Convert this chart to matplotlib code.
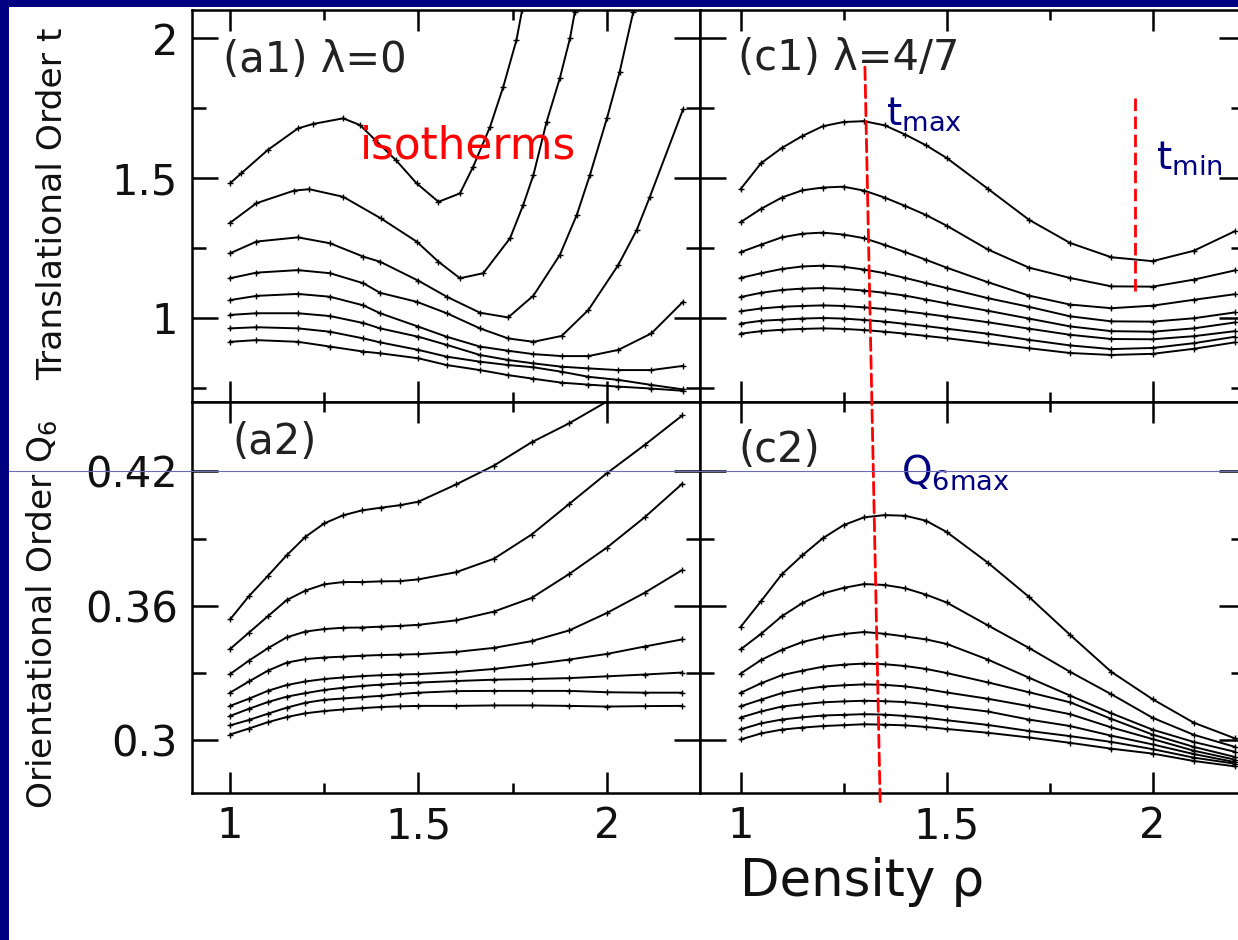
import numpy as np
import matplotlib
matplotlib.use("Agg")
import matplotlib.pyplot as plt
from matplotlib.patches import ConnectionPatch, Rectangle
from matplotlib.lines import Line2D
from matplotlib.ticker import FixedLocator, FixedFormatter

plt.rcParams['font.family'] = ['DejaVu Sans']
plt.rcParams['mathtext.default'] = 'regular'

# density grid shared by the lambda=4/7 panels and the lower lambda=0 panel
rho = [1.0, 1.05, 1.1, 1.15, 1.2, 1.25, 1.3, 1.35, 1.4, 1.45, 1.5,
       1.6, 1.7, 1.8, 1.9, 2.0, 2.1, 2.2]

# (a1) lambda=0, translational order: each isotherm has its own densities
a1_rho = [
    [1.0, 1.03, 1.1, 1.18, 1.22, 1.3, 1.345, 1.385, 1.44, 1.495, 1.553, 1.61, 1.645, 1.69, 1.725, 1.76, 1.775],
    [1.0, 1.07, 1.17, 1.21, 1.3, 1.4, 1.495, 1.553, 1.61, 1.672, 1.743, 1.778, 1.805, 1.84, 1.875, 1.902, 1.915],
    [1.0, 1.07, 1.18, 1.265, 1.354, 1.398, 1.5, 1.575, 1.663, 1.738, 1.805, 1.875, 1.92, 1.955, 2.0, 2.034, 2.07],
    [1.0, 1.07, 1.18, 1.265, 1.354, 1.398, 1.495, 1.575, 1.663, 1.738, 1.805, 1.88, 1.951, 2.03, 2.079, 2.114, 2.202],
    [1.0, 1.07, 1.18, 1.265, 1.354, 1.398, 1.5, 1.575, 1.663, 1.738, 1.805, 1.88, 1.951, 2.03, 2.118, 2.202],
    [1.0, 1.07, 1.18, 1.265, 1.354, 1.398, 1.5, 1.575, 1.663, 1.738, 1.805, 1.88, 1.951, 2.03, 2.118, 2.202],
    [1.0, 1.07, 1.18, 1.265, 1.354, 1.398, 1.5, 1.575, 1.663, 1.738, 1.805, 1.88, 1.951, 2.03, 2.118, 2.202],
    [1.0, 1.07, 1.18, 1.265, 1.354, 1.398, 1.5, 1.575, 1.663, 1.738, 1.805, 1.88, 1.951, 2.03, 2.118, 2.202],
]
a1_t = [
    [1.481, 1.517, 1.600, 1.677, 1.693, 1.713, 1.689, 1.636, 1.564, 1.481, 1.415, 1.445, 1.540, 1.683, 1.826, 1.993, 2.10],
    [1.340, 1.410, 1.455, 1.460, 1.433, 1.356, 1.273, 1.201, 1.142, 1.160, 1.285, 1.404, 1.511, 1.701, 1.856, 1.999, 2.094],
    [1.231, 1.273, 1.288, 1.267, 1.219, 1.201, 1.133, 1.076, 1.019, 1.002, 1.080, 1.225, 1.368, 1.511, 1.713, 1.880, 2.094],
    [1.142, 1.162, 1.171, 1.160, 1.124, 1.090, 1.058, 1.017, 0.963, 0.927, 0.915, 0.936, 1.029, 1.189, 1.314, 1.433, 1.745],
    [1.064, 1.079, 1.086, 1.076, 1.045, 1.017, 0.969, 0.933, 0.898, 0.883, 0.871, 0.864, 0.864, 0.886, 0.945, 1.058],
    [1.011, 1.017, 1.017, 1.007, 0.982, 0.963, 0.933, 0.904, 0.868, 0.850, 0.838, 0.826, 0.820, 0.814, 0.814, 0.829],
    [0.963, 0.967, 0.963, 0.951, 0.927, 0.913, 0.886, 0.862, 0.844, 0.832, 0.824, 0.808, 0.790, 0.779, 0.761, 0.745],
    [0.915, 0.921, 0.915, 0.898, 0.880, 0.874, 0.856, 0.832, 0.814, 0.796, 0.783, 0.769, 0.762, 0.755, 0.748, 0.740],
]

# (a2) lambda=0, orientational order Q6 (lowest isotherm leaves the frame near rho=2)
a2_q = [
    [0.3539, 0.3643, 0.3733, 0.3825, 0.3908, 0.3968, 0.4004, 0.4026, 0.4038, 0.4049, 0.4065,
     0.4142, 0.4226, 0.4330, 0.4415, 0.4512, np.nan, np.nan],
    [0.3407, 0.3480, 0.3553, 0.3625, 0.3668, 0.3696, 0.3706, 0.3706, 0.3709, 0.3710, 0.3718,
     0.3750, 0.3810, 0.3918, 0.4055, 0.4192, 0.4318, 0.4450],
    [0.3295, 0.3355, 0.3410, 0.3459, 0.3485, 0.3496, 0.3502, 0.3503, 0.3507, 0.3510, 0.3515,
     0.3535, 0.3574, 0.3635, 0.3742, 0.3860, 0.3995, 0.4145],
    [0.3212, 0.3262, 0.3310, 0.3346, 0.3362, 0.3369, 0.3373, 0.3377, 0.3380, 0.3382, 0.3384,
     0.3394, 0.3412, 0.3442, 0.3490, 0.3568, 0.3658, 0.3760],
    [0.3153, 0.3185, 0.3220, 0.3246, 0.3262, 0.3273, 0.3280, 0.3286, 0.3290, 0.3293, 0.3295,
     0.3304, 0.3318, 0.3338, 0.3360, 0.3385, 0.3418, 0.3450],
    [0.3108, 0.3140, 0.3170, 0.3194, 0.3210, 0.3224, 0.3234, 0.3242, 0.3248, 0.3253, 0.3257,
     0.3264, 0.3270, 0.3273, 0.3277, 0.3285, 0.3293, 0.3302],
    [0.3066, 0.3090, 0.3118, 0.3145, 0.3167, 0.3180, 0.3186, 0.3192, 0.3198, 0.3206, 0.3212,
     0.3219, 0.3220, 0.3220, 0.3220, 0.3214, 0.3212, 0.3212],
    [0.3025, 0.3052, 0.3080, 0.3103, 0.3120, 0.3130, 0.3137, 0.3143, 0.3148, 0.3151, 0.3153,
     0.3153, 0.3155, 0.3155, 0.3153, 0.3150, 0.3152, 0.3153],
]

# (c1) lambda=4/7, translational order
c1_t = [
    [1.460, 1.553, 1.607, 1.650, 1.685, 1.700, 1.703, 1.688, 1.655, 1.617, 1.572,
     1.462, 1.351, 1.268, 1.217, 1.203, 1.240, 1.310],
    [1.342, 1.390, 1.430, 1.456, 1.466, 1.469, 1.455, 1.430, 1.400, 1.368, 1.330,
     1.245, 1.180, 1.143, 1.113, 1.112, 1.137, 1.170],
    [1.235, 1.262, 1.288, 1.301, 1.305, 1.298, 1.285, 1.261, 1.235, 1.208, 1.180,
     1.128, 1.080, 1.048, 1.035, 1.044, 1.065, 1.085],
    [1.143, 1.160, 1.175, 1.184, 1.187, 1.183, 1.173, 1.160, 1.143, 1.125, 1.107,
     1.071, 1.040, 1.006, 0.988, 0.987, 0.999, 1.020],
    [1.075, 1.090, 1.100, 1.105, 1.107, 1.104, 1.098, 1.090, 1.080, 1.066, 1.052,
     1.026, 0.998, 0.970, 0.953, 0.951, 0.963, 0.984],
    [1.024, 1.034, 1.040, 1.043, 1.045, 1.043, 1.038, 1.032, 1.024, 1.015, 1.005,
     0.985, 0.962, 0.940, 0.925, 0.924, 0.935, 0.953],
    [0.980, 0.990, 0.994, 0.998, 1.000, 0.998, 0.993, 0.987, 0.979, 0.971, 0.962,
     0.944, 0.922, 0.902, 0.889, 0.893, 0.910, 0.933],
    [0.944, 0.953, 0.958, 0.961, 0.963, 0.961, 0.957, 0.951, 0.944, 0.936, 0.928,
     0.910, 0.892, 0.875, 0.868, 0.872, 0.890, 0.913],
]

# (c2) lambda=4/7, orientational order Q6
c2_q = [
    [0.3505, 0.3621, 0.3740, 0.3825, 0.3902, 0.3960, 0.3995, 0.4005, 0.4002, 0.3980, 0.3930,
     0.3793, 0.3640, 0.3470, 0.3305, 0.3183, 0.3078, 0.3008],
    [0.3405, 0.3475, 0.3553, 0.3612, 0.3655, 0.3680, 0.3697, 0.3693, 0.3678, 0.3650, 0.3615,
     0.3513, 0.3412, 0.3305, 0.3205, 0.3100, 0.3024, 0.2970],
    [0.3297, 0.3358, 0.3403, 0.3438, 0.3460, 0.3474, 0.3483, 0.3475, 0.3463, 0.3450, 0.3430,
     0.3360, 0.3279, 0.3199, 0.3120, 0.3047, 0.2992, 0.2948],
    [0.3211, 0.3254, 0.3290, 0.3310, 0.3328, 0.3337, 0.3342, 0.3339, 0.3331, 0.3318, 0.3300,
     0.3258, 0.3214, 0.3169, 0.3095, 0.3025, 0.2970, 0.2925],
    [0.3151, 0.3181, 0.3210, 0.3227, 0.3239, 0.3245, 0.3249, 0.3247, 0.3240, 0.3228, 0.3213,
     0.3185, 0.3152, 0.3116, 0.3057, 0.3005, 0.2953, 0.2913],
    [0.3101, 0.3128, 0.3150, 0.3160, 0.3169, 0.3173, 0.3176, 0.3174, 0.3170, 0.3161, 0.3150,
     0.3128, 0.3092, 0.3063, 0.3020, 0.2981, 0.2938, 0.2902],
    [0.3048, 0.3075, 0.3092, 0.3102, 0.3110, 0.3113, 0.3116, 0.3114, 0.3108, 0.3100, 0.3089,
     0.3068, 0.3041, 0.3018, 0.2992, 0.2960, 0.2922, 0.2895],
    [0.3003, 0.3030, 0.3047, 0.3056, 0.3063, 0.3067, 0.3071, 0.3069, 0.3066, 0.3059, 0.3050,
     0.3033, 0.3012, 0.2988, 0.2962, 0.2940, 0.2907, 0.2883],
]

x_ticks = [1.0, 1.5, 2.0]
x_tick_labels = ['1', '1.5', '2']
x_minor = [1.25, 1.75]
t_ticks = [1.0, 1.5, 2.0]
t_tick_labels = ['1', '1.5', '2']
t_minor = [0.75, 1.25, 1.75]
q_ticks = [0.30, 0.36, 0.42]
q_tick_labels = ['0.3', '0.36', '0.42']
q_minor = [0.33, 0.39]

# positions of the guide lines (density of t_max / Q6_max / t_min)
tmax_rho, tmax_top = 1.302, 1.896
q6max_rho, q6max_bottom = 1.339, 0.2724
tmin_rho, tmin_span = 1.9575, (1.786, 1.089)

navy = '#000080'
W, H = 1238, 940

fig = plt.figure(figsize=(W / 100, H / 100), dpi=100)
fig.patch.set_facecolor('white')

# slide frame
fig.add_artist(Rectangle((0, 0), 9 / W, 1, transform=fig.transFigure, color=navy, lw=0, zorder=0))
fig.add_artist(Rectangle((0, 1 - 7 / H), 1, 7 / H, transform=fig.transFigure, color=navy, lw=0, zorder=0))

ax_a1 = fig.add_axes([192 / W, 1 - 402 / H, 508 / W, 392 / H])
ax_c1 = fig.add_axes([700 / W, 1 - 402 / H, 545 / W, 392 / H])
ax_a2 = fig.add_axes([192 / W, 1 - 793 / H, 508 / W, 391 / H])
ax_c2 = fig.add_axes([700 / W, 1 - 793 / H, 545 / W, 391 / H])

line_kw = dict(color='black', lw=1.4, marker='+', ms=4, mew=1.0)

for xs, ys in zip(a1_rho, a1_t):
    ax_a1.plot(xs, ys, **line_kw)
for ys in c1_t:
    ax_c1.plot(rho, ys, **line_kw)
for ys in a2_q:
    ax_a2.plot(rho, ys, **line_kw)
for ys in c2_q:
    ax_c2.plot(rho, ys, **line_kw)

ax_a1.set_xlim(0.899, 2.247)
ax_a2.set_xlim(0.899, 2.247)
ax_c1.set_xlim(0.9017, 2.2245)
ax_c2.set_xlim(0.9017, 2.2245)
for ax in (ax_a1, ax_c1):
    ax.set_ylim(0.7, 2.1)
    ax.yaxis.set_major_locator(FixedLocator(t_ticks))
    ax.yaxis.set_major_formatter(FixedFormatter(t_tick_labels))
    ax.yaxis.set_minor_locator(FixedLocator(t_minor))
for ax in (ax_a2, ax_c2):
    ax.set_ylim(0.2764, 0.4510)
    ax.yaxis.set_major_locator(FixedLocator(q_ticks))
    ax.yaxis.set_major_formatter(FixedFormatter(q_tick_labels))
    ax.yaxis.set_minor_locator(FixedLocator(q_minor))

for ax in (ax_a1, ax_c1, ax_a2, ax_c2):
    ax.xaxis.set_major_locator(FixedLocator(x_ticks))
    ax.xaxis.set_major_formatter(FixedFormatter(x_tick_labels))
    ax.xaxis.set_minor_locator(FixedLocator(x_minor))
    ax.tick_params(which='both', direction='in', top=True, right=True,
                   width=1.8, labelsize=30, labelcolor='#111111')
    ax.tick_params(axis='x', which='major', length=15, pad=9)
    ax.tick_params(axis='x', which='minor', length=7.5)
    ax.tick_params(axis='y', which='major', length=19, pad=10)
    ax.tick_params(axis='y', which='minor', length=10)
    for sp in ax.spines.values():
        sp.set_linewidth(1.8)

ax_a1.tick_params(labelbottom=False)
ax_c1.tick_params(labelbottom=False, labelleft=False)
ax_c2.tick_params(labelleft=False)

# panel tags
tag_kw = dict(fontsize=30, color='#222222', va='baseline')
ax_a1.text(0.061, 0.842, '(a1) λ=0', transform=ax_a1.transAxes, **tag_kw)
ax_c1.text(0.070, 0.847, '(c1) λ=4/7', transform=ax_c1.transAxes, **tag_kw)
ax_a2.text(0.079, 0.867, '(a2)', transform=ax_a2.transAxes, **tag_kw)
ax_c2.text(0.070, 0.847, '(c2)', transform=ax_c2.transAxes, **tag_kw)

# axis titles
fig.text(53 / W, 1 - 204 / H, 'Translational Order t', rotation=90,
         ha='center', va='center', fontsize=24.8, color='#111111')
fig.text(42 / W, 1 - 614 / H, r'Orientational Order $Q_6$', rotation=90,
         ha='center', va='center', fontsize=24.8, color='#111111')
fig.text(862 / W, 1 - 896 / H, 'Density ρ', ha='center', va='baseline',
         fontsize=37, color='#111111')

# annotations
ax_a1.text(1.345, 1.571, 'isotherms', color='red', fontsize=31.5, va='baseline')
ax_c1.text(1.353, 1.689, r'$t_{max}$', color=navy, fontsize=28, va='baseline')
ax_c1.text(2.008, 1.529, r'$t_{min}$', color=navy, fontsize=28, va='baseline')
ax_c2.text(1.390, 0.4144, r'$Q_{6max}$', color=navy, fontsize=28, va='baseline')

dash = (0, (4.5, 2.0))
ax_c1.plot([tmin_rho, tmin_rho], list(tmin_span), color='red', lw=2, linestyle=dash)
guide = ConnectionPatch(xyA=(tmax_rho, tmax_top), coordsA=ax_c1.transData,
                        xyB=(q6max_rho, q6max_bottom), coordsB=ax_c2.transData,
                        color='red', lw=2, linestyle=dash, zorder=5)
fig.add_artist(guide)

# thin rule running across the slide
fig.add_artist(Line2D([9 / W, 1], [1 - 471 / H, 1 - 471 / H], transform=fig.transFigure,
                      color='#6a6ab8', lw=0.8, zorder=6))

fig.savefig('out.png', dpi=100, facecolor='white')
